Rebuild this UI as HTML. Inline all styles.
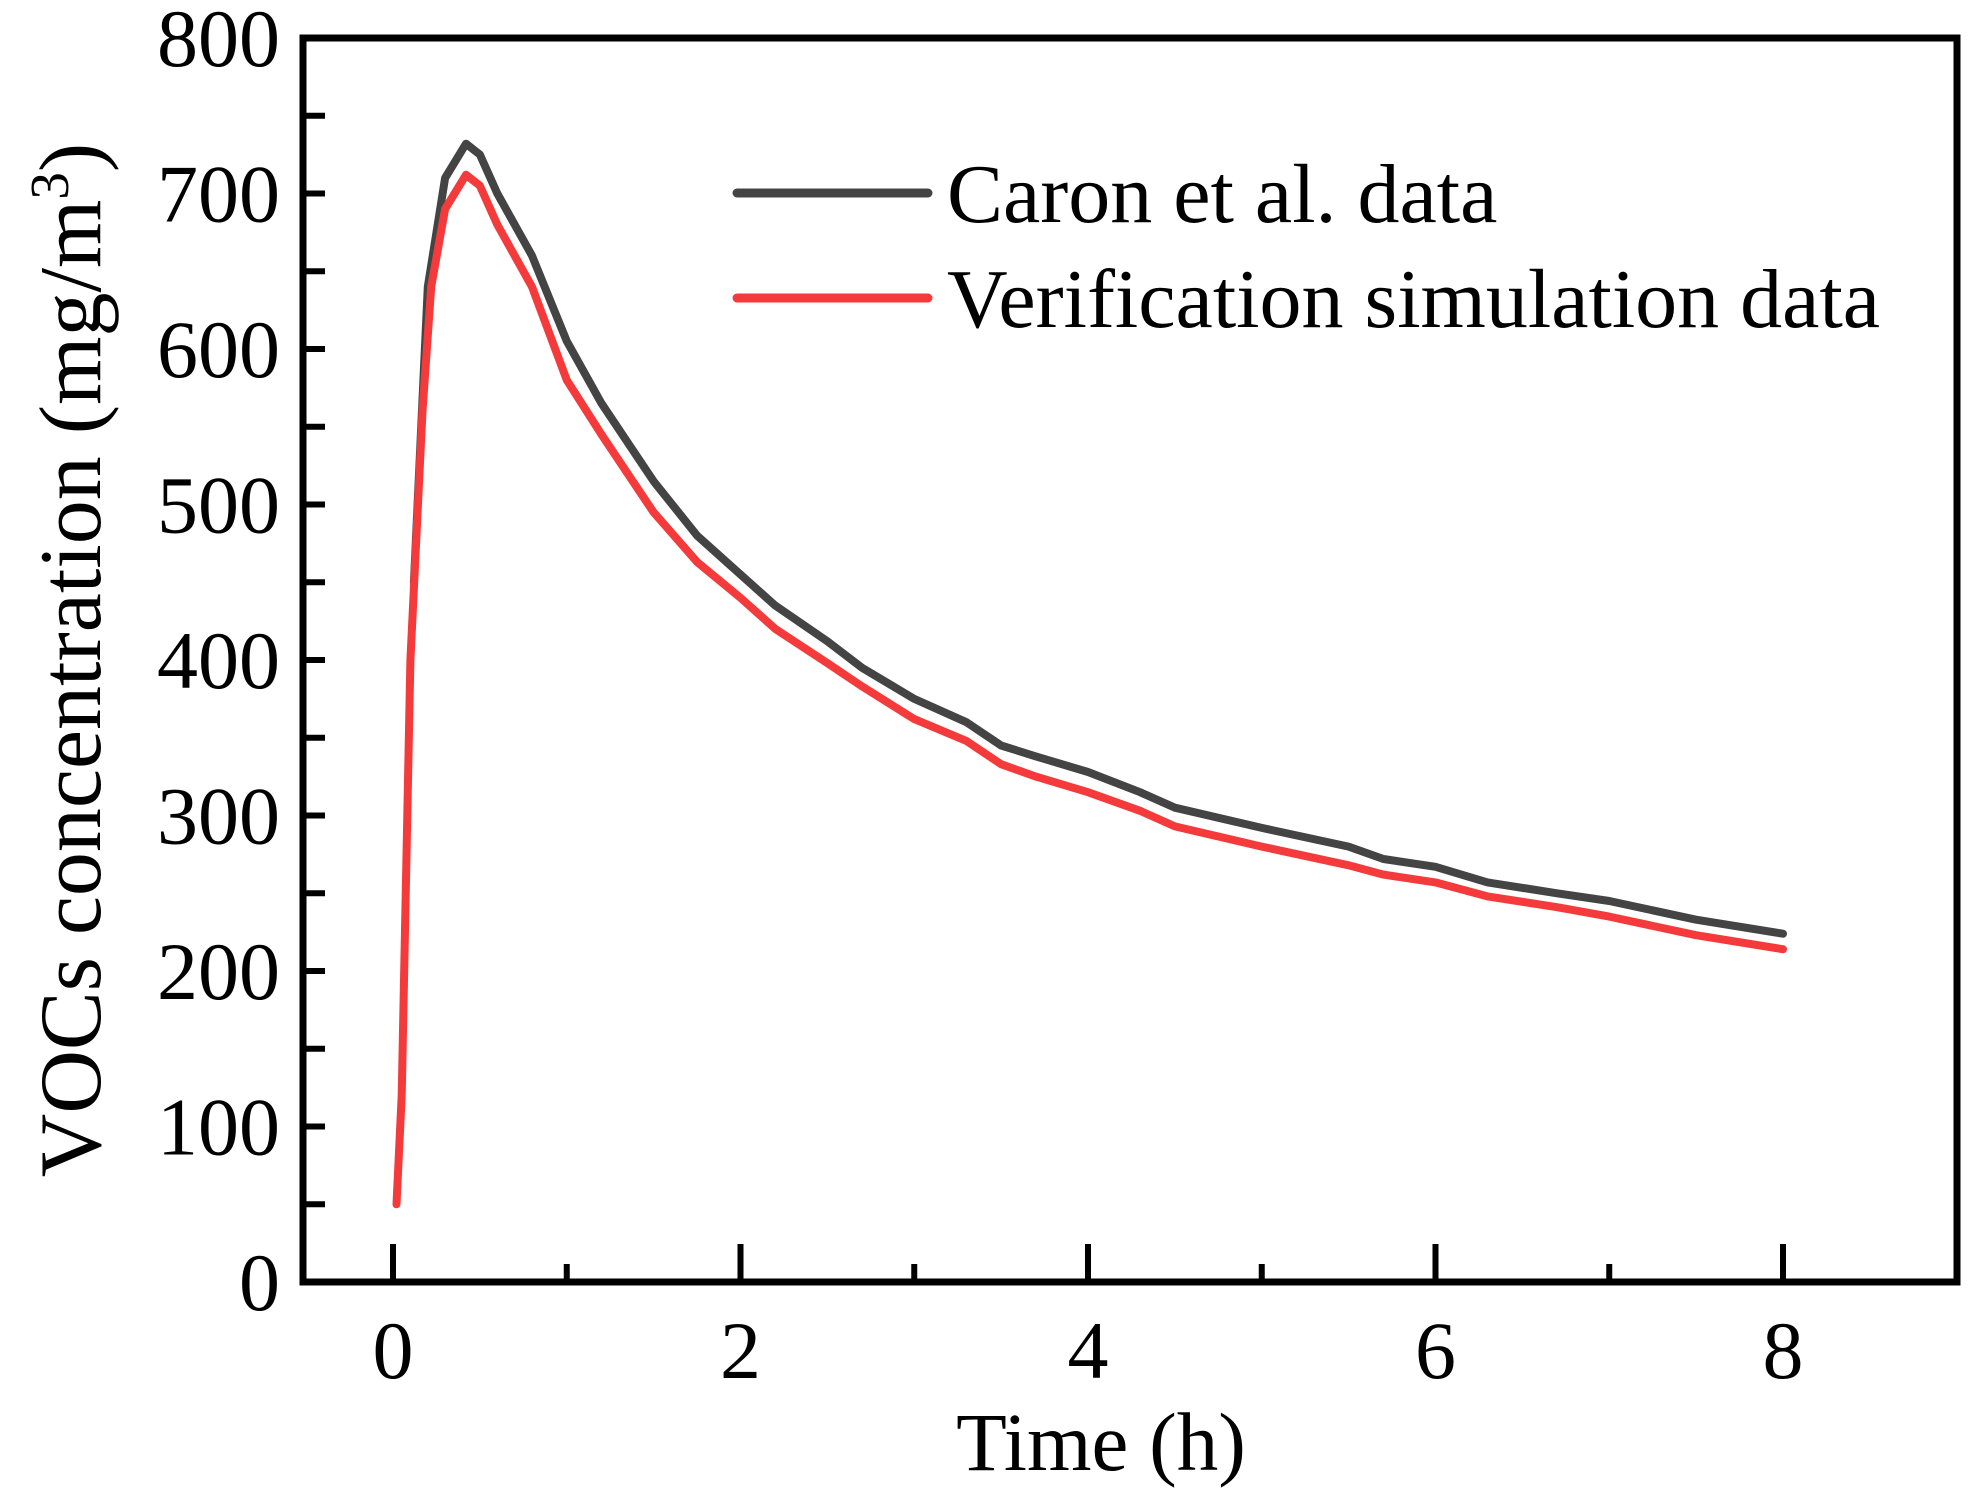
<!DOCTYPE html>
<html><head><meta charset="utf-8"><style>
body{margin:0;background:#fff}
svg text{font-family:"Liberation Serif",serif;fill:#000}
</style></head><body>
<svg id="c" width="1980" height="1499" xmlns="http://www.w3.org/2000/svg"></svg>
<script>
const xTicks=[0,2,4,6,8];
const yTicks=[0,100,200,300,400,500,600,700,800];
const caronX=[0.12,0.2,0.3,0.42,0.5,0.6,0.8,1.0,1.2,1.5,1.75,2.0,2.2,2.5,2.7,3.0,3.3,3.5,3.7,4.0,4.3,4.5,5.0,5.5,5.7,6.0,6.3,6.7,7.0,7.5,8.0];
const caronY=[450,640,710,732,725,700,660,605,565,515,480,455,435,412,395,375,360,345,338,328,315,305,292,280,272,267,257,250,245,233,224];
const simX=[0.02,0.05,0.1,0.17,0.22,0.3,0.42,0.5,0.6,0.8,1.0,1.2,1.5,1.75,2.0,2.2,2.5,2.7,3.0,3.3,3.5,3.7,4.0,4.3,4.5,5.0,5.5,5.7,6.0,6.3,6.7,7.0,7.5,8.0];
const simY=[50,120,400,560,640,690,712,705,680,640,580,545,495,463,440,420,398,383,362,348,333,325,315,303,293,280,268,262,257,248,241,235,223,214];
const NS="http://www.w3.org/2000/svg",svg=document.getElementById('c');
const X0=303,X1=1957,Y0=38,Y1=1282;
const sx=v=>393+v*(1783-393)/8, sy=v=>1282-v*(1282-38)/800;
function el(t,a,txt){const e=document.createElementNS(NS,t);for(const k in a)e.setAttribute(k,a[k]);if(txt!=null)e.textContent=txt;svg.appendChild(e);return e;}
let e=el('rect',{x:X0,y:Y0,width:X1-X0,height:Y1-Y0,fill:'none',stroke:'#000','stroke-width':7});


for(let v=0;v<=800;v+=50){e=el('line',{x1:X0,x2:X0+22,y1:sy(v),y2:sy(v),stroke:'#000','stroke-width':6});

}
yTicks.forEach(v=>{e=el('text',{x:280,y:sy(v)+28,'font-size':82,'text-anchor':'end'},v);

});
for(let v=0;v<=8;v++){const L=v%2==0?38:18;e=el('line',{x1:sx(v),x2:sx(v),y1:Y1,y2:Y1-L,stroke:'#000','stroke-width':6});

}
xTicks.forEach(v=>{e=el('text',{x:sx(v),y:1378,'font-size':82,'text-anchor':'middle'},v);

});
e=el('text',{x:1101,y:1470,'font-size':83,'text-anchor':'middle'},'Time (h)');


e=el('text',{x:0,y:0,'font-size':88,'text-anchor':'middle',transform:'translate(100,660) rotate(-90)'});
e.innerHTML='VOCs concentration (mg/m<tspan dy="-32" font-size="55">3</tspan><tspan dy="32">)</tspan>';


function line(xs,ys,c,n){const d=xs.map((x,i)=>(i?'L':'M')+sx(x).toFixed(1)+','+sy(ys[i]).toFixed(1)).join('');
const p=el('path',{d:d,fill:'none',stroke:c,'stroke-width':8,'stroke-linejoin':'round','stroke-linecap':'round'});

}
line(caronX,caronY,'#444','caron-line');
line(simX,simY,'#f43a3a','simulation-line');
e=el('line',{x1:737,x2:928,y1:193,y2:193,stroke:'#444','stroke-width':9,'stroke-linecap':'round'});


e=el('text',{x:947,y:222,'font-size':84},'Caron et al. data');


e=el('line',{x1:737,x2:928,y1:298,y2:298,stroke:'#f43a3a','stroke-width':9,'stroke-linecap':'round'});


e=el('text',{x:947,y:327,'font-size':84},'Verification simulation data');


</script>
</body></html>
